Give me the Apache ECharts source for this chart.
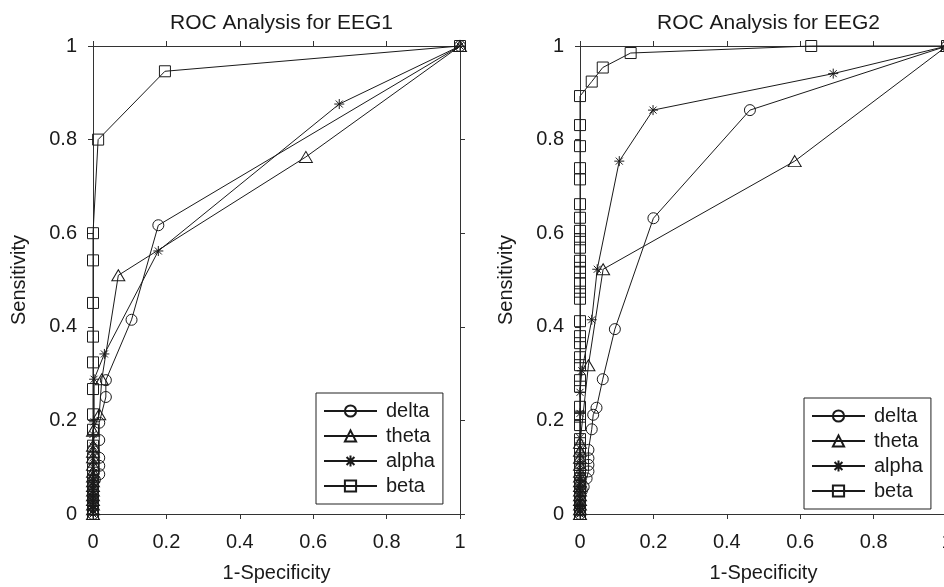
<!DOCTYPE html>
<html>
<head>
<meta charset="utf-8">
<title>ROC Analysis</title>
<script src="https://cdn.jsdelivr.net/npm/echarts@6/dist/echarts.min.js"></script>
<style>
  body{margin:0;background:#fff;}
  #main{width:944px;height:587px;}
</style>
</head>
<body>
<div id="main"></div>
<script>
// band names and panel titles
var bandNames = ['delta', 'theta', 'alpha', 'beta'];
var panelTitles = ['ROC Analysis for EEG1', 'ROC Analysis for EEG2'];
var xName = '1-Specificity';
var yName = 'Sensitivity';

// EEG1 points, [1-specificity, sensitivity]
var eeg1Delta = [[0,0],[0,0.008],[0,0.016],[0,0.025],[0,0.034],[0,0.043],[0,0.052],[0,0.062],[0.005,0.073],[0.017,0.085],[0.017,0.103],[0.017,0.12],[0.017,0.158],[0.017,0.195],[0.035,0.25],[0.035,0.286],[0.105,0.415],[0.178,0.617],[1,1]];
var eeg1Theta = [[0,0],[0,0.01],[0,0.02],[0,0.03],[0,0.04],[0,0.05],[0,0.06],[0,0.07],[0,0.08],[0,0.09],[0,0.105],[0,0.121],[0,0.133],[0,0.146],[0,0.178],[0.017,0.213],[0.024,0.288],[0.069,0.51],[0.58,0.763],[1,1]];
var eeg1Alpha = [[0,0],[0,0.008],[0,0.016],[0,0.025],[0,0.034],[0,0.043],[0,0.052],[0,0.062],[0,0.072],[0,0.085],[0,0.1],[0,0.12],[0,0.145],[0,0.17],[0.003,0.197],[0.003,0.288],[0.031,0.342],[0.178,0.562],[0.671,0.876],[1,1]];
var eeg1Beta = [[0,0],[0,0.01],[0,0.02],[0,0.03],[0,0.04],[0,0.05],[0,0.06],[0,0.07],[0,0.08],[0,0.095],[0,0.12],[0,0.146],[0,0.18],[0,0.213],[0,0.267],[0,0.324],[0,0.379],[0,0.451],[0,0.542],[0,0.6],[0.014,0.8],[0.196,0.946],[1,1]];

// EEG2 points
var eeg2Delta = [[0,0],[0,0.01],[0,0.02],[0,0.03],[0,0.04],[0.005,0.05],[0.01,0.058],[0.018,0.076],[0.023,0.091],[0.023,0.105],[0.023,0.119],[0.023,0.137],[0.032,0.181],[0.036,0.212],[0.045,0.227],[0.062,0.288],[0.095,0.395],[0.2,0.632],[0.463,0.863],[1,1]];
var eeg2Theta = [[0,0],[0,0.01],[0,0.02],[0,0.03],[0,0.04],[0,0.05],[0,0.06],[0,0.07],[0,0.08],[0,0.09],[0,0.105],[0,0.12],[0,0.135],[0,0.152],[0.023,0.318],[0.063,0.523],[0.585,0.754],[1,1]];
var eeg2Alpha = [[0,0],[0,0.008],[0,0.016],[0,0.025],[0,0.034],[0,0.043],[0,0.052],[0,0.062],[0,0.072],[0,0.082],[0,0.093],[0,0.105],[0,0.12],[0,0.14],[0,0.163],[0,0.215],[0,0.26],[0.005,0.306],[0.032,0.415],[0.047,0.523],[0.107,0.754],[0.199,0.863],[0.69,0.941],[1,1]];
var eeg2Beta = [[0,0],[0,0.008],[0,0.016],[0,0.025],[0,0.033],[0,0.042],[0,0.05],[0,0.06],[0,0.07],[0,0.085],[0,0.1],[0,0.12],[0,0.14],[0,0.16],[0,0.19],[0,0.208],[0,0.229],[0,0.272],[0,0.286],[0,0.318],[0,0.335],[0,0.365],[0,0.38],[0,0.412],[0,0.46],[0,0.475],[0,0.493],[0,0.516],[0,0.526],[0,0.541],[0,0.569],[0,0.587],[0,0.605],[0,0.633],[0,0.662],[0,0.715],[0,0.739],[0,0.786],[0,0.831],[0,0.893],[0.032,0.924],[0.062,0.954],[0.138,0.985],[0.63,1],[1,1]];

var panels = [
  [eeg1Delta, eeg1Theta, eeg1Alpha, eeg1Beta],
  [eeg2Delta, eeg2Theta, eeg2Alpha, eeg2Beta]
];

var chart = echarts.init(document.getElementById('main'));
var font = "'Liberation Sans', Arial, sans-serif";
var ink = '#1a1a1a';

// marker per band (asterisk drawn as a stroked path)
var starPath = 'path://M5 0L5 10M0 5L10 5M1.5 1.5L8.5 8.5M1.5 8.5L8.5 1.5';
var marks = {
  delta: {symbol: 'circle', size: 11},
  theta: {symbol: 'triangle', size: [13, 11]},
  alpha: {symbol: starPath, size: 10},
  beta:  {symbol: 'rect', size: 11}
};

var gridLefts = [93, 580];
var grids = [], xAxes = [], yAxes = [], titles = [], legends = [], series = [];

function axisCommon(gi, pos, labels) {
  return {
    type: 'value', gridIndex: gi, position: pos, min: 0, max: 1, interval: 0.2,
    axisLine: {show: true, onZero: false, lineStyle: {color: '#333', width: 1}},
    axisTick: {show: true, inside: false, length: 5, lineStyle: {color: '#333'}},
    axisLabel: {show: labels, fontSize: 20, color: ink, fontFamily: font, margin: pos === 'left' ? 16 : 18},
    splitLine: {show: false}
  };
}

for (var p = 0; p < 2; p++) {
  grids.push({left: gridLefts[p], top: 46, width: 367, height: 468, outerBoundsMode: 'none', containLabel: false});

  var xb = axisCommon(p, 'bottom', true);
  xb.name = xName; xb.nameLocation = 'middle'; xb.nameGap = 49;
  xb.nameTextStyle = {fontSize: 20, color: ink, fontFamily: font};
  xAxes.push(xb, axisCommon(p, 'top', false));

  var yl = axisCommon(p, 'left', true);
  yl.name = yName; yl.nameLocation = 'middle'; yl.nameGap = 64;
  yl.nameTextStyle = {fontSize: 20, color: ink, fontFamily: font};
  yAxes.push(yl, axisCommon(p, 'right', false));

  titles.push({
    text: panelTitles[p], left: gridLefts[p] + 183.5, top: 8, textAlign: 'center',
    textStyle: {fontSize: 21, fontWeight: 'normal', color: ink, fontFamily: font}
  });

  bandNames.forEach(function (b, i) {
    series.push({
      type: 'line', name: b, xAxisIndex: p * 2, yAxisIndex: p * 2,
      data: panels[p][i], symbol: marks[b].symbol, symbolSize: marks[b].size,
      showSymbol: true, clip: false, animation: false, silent: true,
      lineStyle: {color: ink, width: 1},
      itemStyle: {color: 'none', borderColor: ink, borderWidth: 1}
    });
  });
}

legends.push({
  orient: 'vertical', left: 316, top: 393, padding: [8, 8, 8, 7], itemGap: 5,
  itemWidth: 53, itemHeight: 14, borderColor: '#222', borderWidth: 1,
  selectedMode: false, data: bandNames,
  textStyle: {fontSize: 20, color: ink, fontFamily: font, padding: [0, 0, 0, 4]}
});
legends.push({
  orient: 'vertical', left: 804, top: 398, padding: [8, 8, 8, 7], itemGap: 5,
  itemWidth: 53, itemHeight: 14, borderColor: '#222', borderWidth: 1,
  selectedMode: false, data: bandNames,
  textStyle: {fontSize: 20, color: ink, fontFamily: font, padding: [0, 0, 0, 4]}
});

chart.setOption({
  backgroundColor: '#fff',
  animation: false,
  title: titles,
  grid: grids,
  xAxis: xAxes,
  yAxis: yAxes,
  legend: legends,
  series: series
});
</script>
</body>
</html>
